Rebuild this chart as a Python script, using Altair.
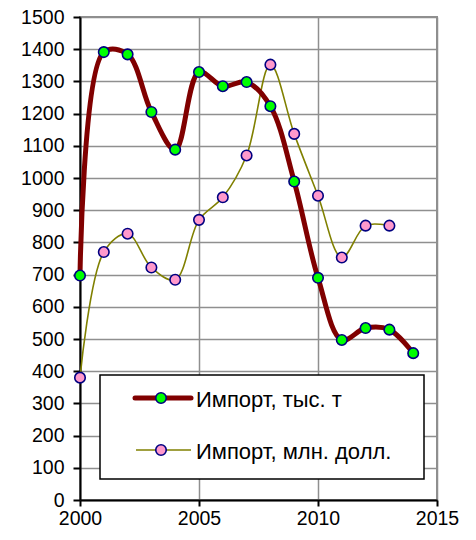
import altair as alt
import pandas as pd

years_t = [2000, 2001, 2002, 2003, 2004, 2005, 2006, 2007, 2008, 2009, 2010, 2011, 2012, 2013, 2014]
import_t = [697, 1391, 1384, 1205, 1088, 1329, 1285, 1298, 1223, 989, 690, 497, 534, 529, 456]

years_usd = [2000, 2001, 2002, 2003, 2004, 2005, 2006, 2007, 2008, 2009, 2010, 2011, 2012, 2013]
import_usd = [380, 770, 827, 722, 684, 870, 940, 1070, 1352, 1137, 945, 753, 852, 852]

label_t = "Импорт, тыс. т"
label_usd = "Импорт, млн. долл."

df_t = pd.DataFrame({"year": years_t, "value": import_t})
df_u = pd.DataFrame({"year": years_usd, "value": import_usd})
one = pd.DataFrame({"k": [0]})

FONT = "Liberation Sans"
xs = alt.Scale(domain=[2000, 2015], nice=False, zero=False)
ys = alt.Scale(domain=[0, 1500], nice=False)

x_enc = alt.X("year:Q", scale=xs, axis=alt.Axis(values=[2000, 2005, 2010, 2015], format="d", title=None))
y_enc = alt.Y("value:Q", scale=ys, axis=alt.Axis(values=list(range(0, 1501, 100)), format="d", title=None))

line_u = alt.Chart(df_u).mark_line(color="#808000", strokeWidth=1.6, interpolate="catmull-rom").encode(x=x_enc, y=y_enc)
line_t = alt.Chart(df_t).mark_line(color="#800000", strokeWidth=5, interpolate="catmull-rom", strokeCap="round").encode(x=x_enc, y=y_enc)
pts_u = alt.Chart(df_u).mark_point(filled=True, fill="#ff99cc", stroke="#000080", strokeWidth=1.6, size=110, opacity=1, shape="circle").encode(x=x_enc, y=y_enc)
pts_t = alt.Chart(df_t).mark_point(filled=True, fill="#00ff00", stroke="#000080", strokeWidth=1.6, size=110, opacity=1, shape="circle").encode(x=x_enc, y=y_enc)

# manual legend
box = alt.Chart(one).mark_rect(fill="white", stroke="black", strokeWidth=1.5).encode(
    x=alt.value(20), x2=alt.value(344), y=alt.value(358), y2=alt.value(462))
leg_l1 = alt.Chart(one).mark_rule(color="#800000", strokeWidth=5, strokeCap="round").encode(
    x=alt.value(55), x2=alt.value(111), y=alt.value(381))
leg_p1 = alt.Chart(one).mark_point(filled=True, fill="#00ff00", stroke="#000080", strokeWidth=1.6, size=110, opacity=1, shape="circle").encode(
    x=alt.value(81), y=alt.value(381))
leg_t1 = alt.Chart(one).mark_text(align="left", baseline="middle", font=FONT, fontSize=22, color="black").encode(
    x=alt.value(116), y=alt.value(383), text=alt.value(label_t))
leg_l2 = alt.Chart(one).mark_rule(color="#808000", strokeWidth=1.6).encode(
    x=alt.value(56), x2=alt.value(111), y=alt.value(433))
leg_p2 = alt.Chart(one).mark_point(filled=True, fill="#ff99cc", stroke="#000080", strokeWidth=1.6, size=110, opacity=1, shape="circle").encode(
    x=alt.value(81), y=alt.value(433))
leg_t2 = alt.Chart(one).mark_text(align="left", baseline="middle", font=FONT, fontSize=22, color="black").encode(
    x=alt.value(116), y=alt.value(435), text=alt.value(label_usd))

chart = alt.layer(
    line_u, line_t, pts_u, pts_t,
    box, leg_l1, leg_p1, leg_t1, leg_l2, leg_p2, leg_t2
).properties(
    width=357, height=483,
    background="white",
    autosize=alt.AutoSizeParams(type="none"),
    padding={"left": 72, "top": 9, "right": 31, "bottom": 32},
).configure_view(
    stroke="#8f8f8f", strokeWidth=2
).configure_axis(
    labelFont=FONT, labelFontSize=19.5, labelColor="black",
    labelFlush=False, labelOverlap=False,
    domainColor="black", domainWidth=2,
    tickColor="black", tickWidth=2,
    gridColor="#8f8f8f", gridWidth=1.5, gridOpacity=1,
).configure_axisY(
    tickSize=7, labelPadding=9,
).configure_axisX(
    tickSize=6, labelPadding=3,
)

chart.save("out.html", embed_options={"renderer": "svg", "actions": False})
